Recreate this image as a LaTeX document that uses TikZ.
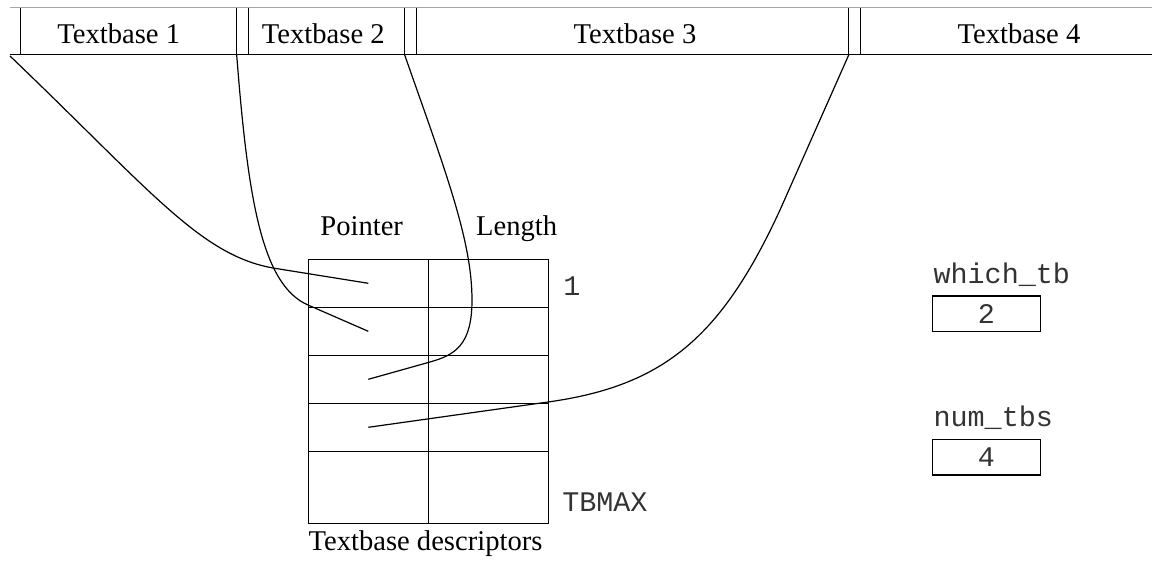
\documentclass[tikz,border=0pt]{standalone}
\usepackage{fontspec}
\setmainfont{Liberation Serif}
\setmonofont{Liberation Mono}
\begin{document}
\begin{tikzpicture}[x=0.5pt,y=-0.5pt, line width=0.6pt,
  lbl/.style={font=\fontsize{14.3}{16}\selectfont, inner sep=0pt},
  mono/.style={font=\fontsize{14.2}{16}\selectfont\ttfamily, text=black!80, inner sep=0pt},
  cell/.style={draw, rectangle, inner sep=0pt, minimum width=60pt, minimum height=24pt},
  tallcell/.style={cell, minimum height=36pt},
  varbox/.style={draw, rectangle, inner sep=0pt, minimum width=54.2pt, minimum height=17.6pt, font=\fontsize{14.2}{16}\selectfont\ttfamily, text=black!80},
  barline/.style={draw=black},
  topline/.style={draw=black!35},
  link/.style={draw=black, line width=0.6pt}]
\useasboundingbox (0,0) rectangle (1152,563);

% textbase bar
\draw[topline] (10,7.5) -- (1152,7.5);
\draw[barline] (10,54.5) -- (1152,54.5);
\foreach \xx in {20.7,236.7,248.7,404.7,416.7,848.7,860.7}
  \draw[barline] (\xx,7.5) -- (\xx,54.5);
\node[lbl, anchor=base] (tb1) at (118.7,43.3) {Textbase 1};
\node[lbl, anchor=base] (tb2) at (323.3,43.3) {Textbase 2};
\node[lbl, anchor=base] (tb3) at (635,43.3) {Textbase 3};
\node[lbl, anchor=base] (tb4) at (1019,43.3) {Textbase 4};
\coordinate (s1) at (10,56);
\coordinate (s2) at (236.7,55);
\coordinate (s3) at (404.7,55);
\coordinate (s4) at (848.7,55);

% descriptor table
\node[cell] (p1) at (368.3,283.3) {};
\node[cell] (l1) at (488.3,283.3) {};
\node[cell] (p2) at (368.3,331.3) {};
\node[cell] (l2) at (488.3,331.3) {};
\node[cell] (p3) at (368.3,379.3) {};
\node[cell] (l3) at (488.3,379.3) {};
\node[cell] (p4) at (368.3,427.3) {};
\node[cell] (l4) at (488.3,427.3) {};
\node[tallcell] (p5) at (368.3,487.3) {};
\node[tallcell] (l5) at (488.3,487.3) {};

\node[lbl, anchor=base] (ptr) at (361.7,235) {Pointer};
\node[lbl, anchor=base] (len) at (516.7,235) {Length};
\node[lbl, anchor=base west] (desc) at (308,550) {Textbase descriptors};
\node[mono, anchor=base west] (one) at (562.7,295) {1};
\node[mono, anchor=base west] (tbmax) at (561.7,511.7) {TBMAX};

% variables
\node[mono, anchor=base west] (wtb) at (933,283.3) {which\_tb};
\node[varbox] (wbox) at (986.5,313.5) {2};
\node[mono, anchor=base west] (ntb) at (933,426.7) {num\_tbs};
\node[varbox] (nbox) at (986.5,457.3) {4};

% links
\draw[link] (s1) .. controls (150,190) and (200,255) .. (273,268) -- (p1.center);
\draw[link] (s2) .. controls (248,200) and (262,285) .. (308,305) -- (p2.center);
\draw[link] (s3) .. controls (445,170) and (472,240) .. (472,300)
  .. controls (472,345) and (455,355) .. (430,362) -- (p3.center);
\draw[link] (s4) -- (780,210) .. controls (721,338) and (663,386) .. (548,402) -- (p4.center);
\end{tikzpicture}
\end{document}
